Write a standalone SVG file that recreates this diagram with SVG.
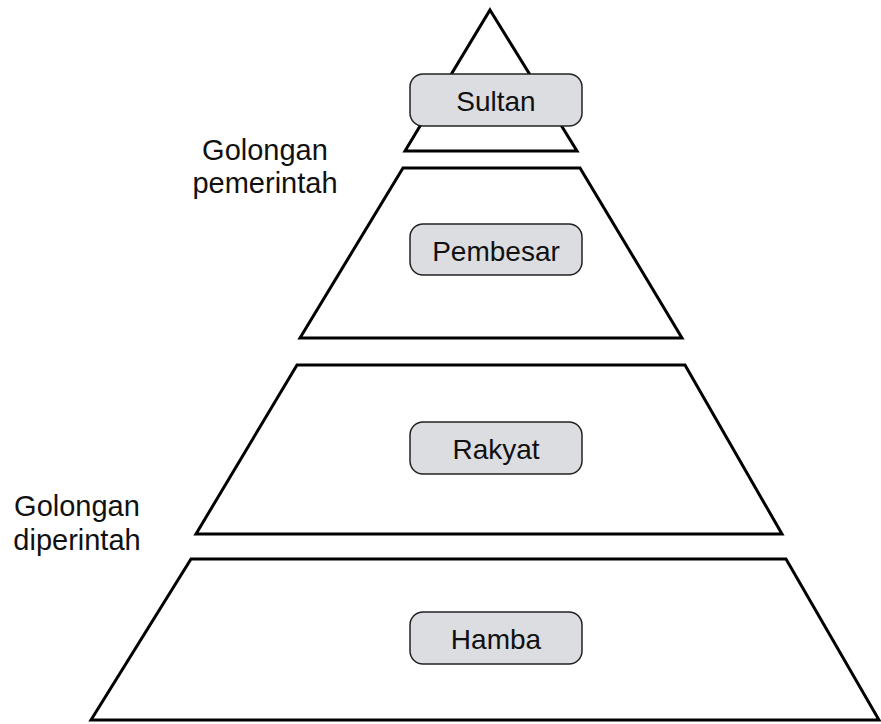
<svg xmlns="http://www.w3.org/2000/svg" width="881" height="724" viewBox="0 0 881 724">
<style>
.tier{fill:#fff;stroke:#000;stroke-width:3;stroke-linejoin:miter}
.box{fill:#dcdde0;stroke:#222;stroke-width:1.5}
.lbl{font-family:"Liberation Sans",Arial,sans-serif;font-size:28px;fill:#111;text-anchor:middle}
.side{font-family:"Liberation Sans",Arial,sans-serif;font-size:29px;fill:#111;text-anchor:middle}
</style>
<rect width="881" height="724" fill="#fff"/>
<g id="tier-sultan">
<polygon class="tier" points="490,10 577,151 405,151"/>
<rect class="box" x="410" y="74" width="172" height="52" rx="13"/>
<text class="lbl" x="496" y="111">Sultan</text>
</g>
<g id="tier-pembesar">
<polygon class="tier" points="403,168 580,168 682,338 300,338"/>
<rect class="box" x="410" y="224" width="172" height="51" rx="13"/>
<text class="lbl" x="496" y="261">Pembesar</text>
</g>
<g id="tier-rakyat">
<polygon class="tier" points="297,365 685,365 782,534 196,534"/>
<rect class="box" x="410" y="422" width="172" height="52" rx="13"/>
<text class="lbl" x="496" y="459">Rakyat</text>
</g>
<g id="tier-hamba">
<polygon class="tier" points="191,559 786,559 879,720 91,720"/>
<rect class="box" x="410" y="612" width="172" height="52" rx="13"/>
<text class="lbl" x="496" y="649">Hamba</text>
</g>
<g id="label-pemerintah">
<text class="side" x="265" y="160">Golongan</text>
<text class="side" x="265" y="193">pemerintah</text>
</g>
<g id="label-diperintah">
<text class="side" x="77" y="516">Golongan</text>
<text class="side" x="77" y="550">diperintah</text>
</g>
<g id="connectors"></g>
</svg>
